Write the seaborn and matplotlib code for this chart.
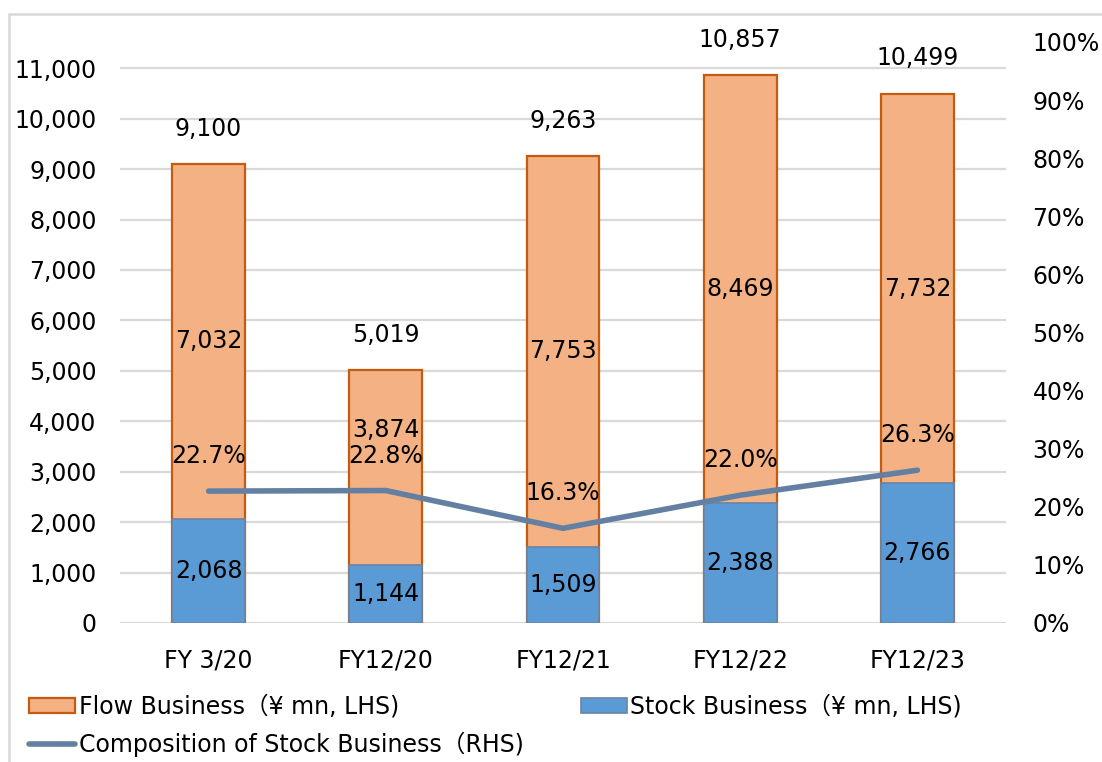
import matplotlib
matplotlib.use("Agg")
import matplotlib.pyplot as plt
import seaborn as sns
import numpy as np
import pandas as pd
from matplotlib.patches import Patch, Rectangle
from matplotlib.lines import Line2D

categories = ["FY 3/20", "FY12/20", "FY12/21", "FY12/22", "FY12/23"]
stock = [2068, 1144, 1509, 2388, 2766]
flow = [7032, 3874, 7753, 8469, 7732]
totals = [9100, 5019, 9263, 10857, 10499]
stock_share = [22.7, 22.8, 16.3, 22.0, 26.3]

flow_label = "Flow Business（¥ mn, LHS)"
stock_label = "Stock Business（¥ mn, LHS)"
share_label = "Composition of Stock Business（RHS)"

sns.set_style("white")
plt.rcParams["font.family"] = ["DejaVu Sans", "Noto Sans CJK JP"]
plt.rcParams["text.color"] = "black"
plt.rcParams["xtick.color"] = "black"
plt.rcParams["ytick.color"] = "black"

FLOW_FACE, FLOW_EDGE = "#F4B183", "#C55A11"
STOCK_FACE, STOCK_EDGE = "#5B9BD5", "#6A83A3"
LINE_COLOR = "#6380A2"
GRID = "#D9D9D9"
FS = 17

fig = plt.figure(figsize=(11.02, 7.62), dpi=100)
ax = fig.add_axes([120 / 1102, 139 / 762, 886 / 1102, 581 / 762])

df = pd.DataFrame({"cat": categories, "stock": stock, "flow": flow,
                   "total": [s + f for s, f in zip(stock, flow)]})

# stacked bars: draw totals (flow colour) then stock over the lower part
sns.barplot(data=df, x="cat", y="total", color=FLOW_FACE, width=0.41,
            edgecolor=FLOW_EDGE, linewidth=1.6, saturation=1, ax=ax, zorder=2)
sns.barplot(data=df, x="cat", y="stock", color=STOCK_FACE, width=0.41,
            edgecolor=STOCK_EDGE, linewidth=1.2, saturation=1, ax=ax, zorder=3)

ax.set_xlim(-0.5, len(categories) - 0.5)
ax.set_ylim(0, 11520)
ax.set_yticks(np.arange(0, 11001, 1000))
ax.yaxis.set_major_formatter(matplotlib.ticker.FuncFormatter(lambda v, p: f"{int(v):,}"))
ax.grid(axis="y", color=GRID, linewidth=1.6, zorder=0)
ax.set_axisbelow(True)
ax.set_xlabel("")
ax.set_ylabel("")
for s in ax.spines.values():
    s.set_visible(False)
ax.tick_params(axis="y", length=0, pad=17, labelsize=FS)
ax.tick_params(axis="x", length=0, pad=18, labelsize=FS)

# the short FY12/20 flow label is lifted so it clears the percentage label
flow_nudge = {1: 745}

for i, (s, f, t) in enumerate(zip(stock, flow, totals)):
    ax.text(i, s / 2, f"{s:,}", ha="center", va="center", fontsize=FS, zorder=6)
    ax.text(i, s + f / 2 + flow_nudge.get(i, 0), f"{f:,}", ha="center", va="center",
            fontsize=FS, zorder=6)
    ax.text(i, t + 700, f"{t:,}", ha="center", va="center", fontsize=FS, zorder=6)

ax2 = ax.twinx()
ax2.plot(range(len(categories)), stock_share, color=LINE_COLOR, linewidth=4,
         solid_capstyle="round", zorder=5)
ax2.set_ylim(0, 100)
ax2.set_yticks(np.arange(0, 101, 10))
ax2.yaxis.set_major_formatter(matplotlib.ticker.FuncFormatter(lambda v, p: f"{int(v)}%"))
ax2.tick_params(axis="y", length=0, pad=19, labelsize=FS)
for s in ax2.spines.values():
    s.set_visible(False)
for i, p in enumerate(stock_share):
    ax2.text(i, p + 6.0, f"{p:.1f}%", ha="center", va="center", fontsize=FS, zorder=6)

handles = [
    Patch(facecolor=FLOW_FACE, edgecolor=FLOW_EDGE, linewidth=1.6, label=flow_label),
    Line2D([], [], color=LINE_COLOR, linewidth=4, solid_capstyle="round", label=share_label),
    Patch(facecolor=STOCK_FACE, edgecolor=STOCK_EDGE, linewidth=1.2, label=stock_label),
]
fig.legend(handles=handles, ncol=2, loc="upper left", bbox_to_anchor=(20 / 1102, 1 - 685 / 762),
           frameon=False, fontsize=FS, handlelength=1.95, handleheight=0.6, handletextpad=0.15,
           columnspacing=2.4, labelspacing=0.58, borderaxespad=0)

fig.patches.append(Rectangle((9 / 1102, -0.05), 1.2, 1 - 14 / 762 + 0.05,
                             transform=fig.transFigure, fill=False,
                             edgecolor=GRID, linewidth=1.8))

fig.savefig("out.png", dpi=100)
